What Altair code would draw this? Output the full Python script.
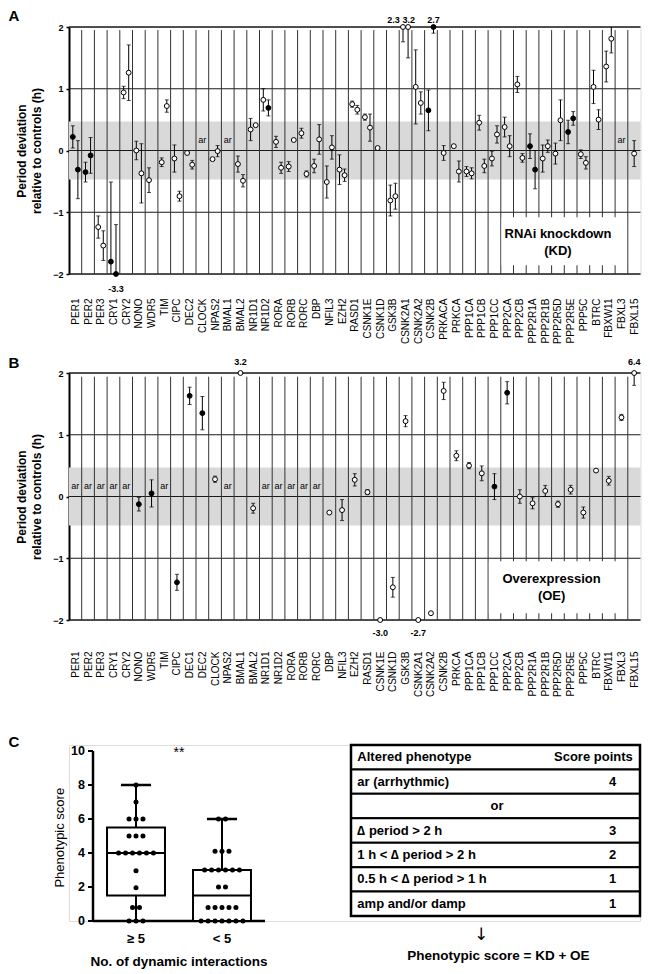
import json
import altair as alt
import pandas as pd

FONT = "Liberation Sans"

# ---------------- data ----------------
GENES_KD = ["PER1", "PER2", "PER3", "CRY1", "CRY2", "NONO", "WDR5", "TIM", "CIPC", "DEC2",
            "CLOCK", "NPAS2", "BMAL1", "BMAL2", "NR1D1", "NR1D2", "RORA", "RORB", "RORC", "DBP",
            "NFIL3", "EZH2", "RASD1", "CSNK1E", "CSNK1D", "GSK3B", "CSNK2A1", "CSNK2A2", "CSNK2B",
            "PRKACA", "PRKCA", "PPP1CA", "PPP1CB", "PPP1CC", "PPP2CA", "PPP2CB", "PPP2R1A",
            "PPP2R1B", "PPP2R5D", "PPP2R5E", "PPP5C", "BTRC", "FBXW11", "FBXL3", "FBXL15"]
GENES_OE = ["PER1", "PER2", "PER3", "CRY1", "CRY2", "NONO", "WDR5", "TIM", "CIPC", "DEC1",
            "DEC2", "CLOCK", "NPAS2", "BMAL1", "BMAL2", "NR1D1", "NR1D2", "RORA", "RORB", "RORC",
            "DBP", "NFIL3", "EZH2", "RASD1", "CSNK1E", "CSNK1D", "GSK3B", "CSNK2A1", "CSNK2A2",
            "CSNK2B", "PRKCA", "PPP1CA", "PPP1CB", "PPP1CC", "PPP2CA", "PPP2CB", "PPP2R1A",
            "PPP2R1B", "PPP2R5D", "PPP2R5E", "PPP5C", "BTRC", "FBXW11", "FBXL3", "FBXL15"]

# RNAi knockdown: gene, siRNA (1/2, 0 = single), period deviation, error, filled marker
KD_GENE = ["PER1", "PER1", "PER2", "PER2", "PER3", "PER3", "CRY1", "CRY1", "CRY2", "CRY2",
           "NONO", "NONO", "WDR5", "TIM", "TIM", "CIPC", "CIPC", "DEC2", "DEC2", "NPAS2", "NPAS2",
           "BMAL2", "BMAL2", "NR1D1", "NR1D1", "NR1D2", "NR1D2", "RORA", "RORA", "RORB", "RORB",
           "RORC", "RORC", "DBP", "DBP", "NFIL3", "NFIL3", "EZH2", "EZH2", "RASD1", "RASD1",
           "CSNK1E", "CSNK1E", "CSNK1D", "GSK3B", "GSK3B", "CSNK2A1", "CSNK2A1", "CSNK2A2",
           "CSNK2A2", "CSNK2B", "CSNK2B", "PRKACA", "PRKCA", "PRKCA", "PPP1CA", "PPP1CA",
           "PPP1CB", "PPP1CB", "PPP1CC", "PPP1CC", "PPP2CA", "PPP2CA", "PPP2CB", "PPP2CB",
           "PPP2R1A", "PPP2R1A", "PPP2R1B", "PPP2R1B", "PPP2R5D", "PPP2R5D", "PPP2R5E", "PPP2R5E",
           "PPP5C", "PPP5C", "BTRC", "BTRC", "FBXW11", "FBXW11", "FBXL15"]
KD_SIRNA = [1, 2, 1, 2, 1, 2, 1, 2, 1, 2,
            1, 2, 1, 1, 2, 1, 2, 1, 2, 1, 2,
            1, 2, 1, 2, 1, 2, 1, 2, 1, 2,
            1, 2, 1, 2, 1, 2, 1, 2, 1, 2,
            1, 2, 1, 1, 2, 1, 2, 1,
            2, 1, 2, 0, 1, 2, 1, 2,
            1, 2, 1, 2, 1, 2, 1, 2,
            1, 2, 1, 2, 1, 2, 1, 2,
            1, 2, 1, 2, 1, 2, 0]
KD_VAL = [0.22, -0.31, -0.35, -0.08, -1.24, -1.54, -1.80, -3.3, 0.94, 1.26,
          0.00, -0.37, -0.48, -0.19, 0.72, -0.13, -0.74, -0.04, -0.23, -0.14, -0.01,
          -0.22, -0.49, 0.34, 0.41, 0.82, 0.69, 0.14, -0.28, -0.26, 0.17,
          0.28, -0.38, -0.25, 0.18, -0.51, 0.05, -0.31, -0.40, 0.75, 0.66,
          0.54, 0.37, 0.04, -0.81, -0.74, 2.3, 3.2, 1.03,
          0.77, 0.65, 2.7, -0.04, 0.07, -0.34, -0.34, -0.37,
          0.45, -0.25, -0.13, 0.26, 0.38, 0.07, 1.07, -0.12,
          0.07, -0.31, -0.13, 0.07, -0.05, 0.49, 0.30, 0.52,
          -0.06, -0.20, 1.03, 0.50, 1.36, 1.81, -0.05]
KD_ERR = [0.18, 0.47, 0.16, 0.29, 0.18, 0.24, 1.29, 2.1, 0.10, 0.45,
          0.15, 0.48, 0.20, 0.07, 0.10, 0.22, 0.08, 0.0, 0.07, 0.0, 0.09,
          0.13, 0.10, 0.18, 0.0, 0.18, 0.13, 0.09, 0.09, 0.08, 0.0,
          0.08, 0.05, 0.11, 0.24, 0.26, 0.19, 0.24, 0.10, 0.05, 0.07,
          0.05, 0.22, 0.0, 0.25, 0.21, 0.54, 1.7, 0.60,
          0.18, 0.33, 0.8, 0.12, 0.0, 0.17, 0.08, 0.09,
          0.12, 0.11, 0.12, 0.14, 0.16, 0.17, 0.13, 0.07,
          0.20, 0.31, 0.22, 0.10, 0.17, 0.33, 0.19, 0.11,
          0.07, 0.10, 0.27, 0.16, 0.25, 0.23, 0.21]
KD_FILLED = [1, 1, 1, 1, 0, 0, 1, 1, 0, 0,
             0, 0, 0, 0, 0, 0, 0, 0, 0, 0, 0,
             0, 0, 0, 0, 0, 1, 0, 0, 0, 0,
             0, 0, 0, 0, 0, 0, 0, 0, 0, 0,
             0, 0, 0, 0, 0, 0, 0, 0,
             0, 1, 1, 0, 0, 0, 0, 0,
             0, 0, 0, 0, 0, 0, 0, 0,
             1, 1, 0, 0, 0, 0, 1, 1,
             0, 0, 0, 0, 0, 0, 0]
KD_AR = ["CLOCK", "BMAL1", "FBXL3"]

# Overexpression
OE_GENE = ["NONO", "WDR5", "CIPC", "DEC1", "DEC2", "CLOCK", "BMAL1", "BMAL2", "DBP", "NFIL3",
           "EZH2", "RASD1", "CSNK1E", "CSNK1D", "GSK3B", "CSNK2A1", "CSNK2A2", "CSNK2B", "PRKCA",
           "PPP1CA", "PPP1CB", "PPP1CC", "PPP2CA", "PPP2CB", "PPP2R1A", "PPP2R1B", "PPP2R5D",
           "PPP2R5E", "PPP5C", "BTRC", "FBXW11", "FBXL3", "FBXL15"]
OE_VAL = [-0.125, 0.05, -1.39, 1.63, 1.35, 0.28, 3.2, -0.19, -0.26, -0.22,
          0.27, 0.07, -3.0, -1.47, 1.22, -2.7, -1.89, 1.71, 0.66,
          0.50, 0.375, 0.16, 1.68, 0.0, -0.11, 0.09, -0.125,
          0.11, -0.26, 0.42, 0.255, 1.28, 6.4]
OE_ERR = [0.11, 0.22, 0.13, 0.14, 0.27, 0.05, 0.0, 0.08, 0.0, 0.17,
          0.10, 0.04, 0.0, 0.16, 0.09, 0.0, 0.0, 0.14, 0.08,
          0.05, 0.12, 0.21, 0.18, 0.11, 0.09, 0.09, 0.05,
          0.07, 0.09, 0.0, 0.07, 0.05, 4.6]
OE_FILLED = [1, 1, 1, 1, 1, 0, 0, 0, 0, 0,
             0, 0, 0, 0, 0, 0, 0, 0, 0,
             0, 0, 1, 1, 0, 0, 0, 0,
             0, 0, 0, 0, 0, 0]
OE_AR = ["PER1", "PER2", "PER3", "CRY1", "CRY2", "TIM", "NPAS2", "NR1D1", "NR1D2",
         "RORA", "RORB", "RORC"]

# Panel C: phenotypic scores
GROUPS = ["\u2265 5", "< 5"]
SCORES_G1 = [8, 7, 6, 6, 6, 5, 5, 5, 4, 4, 4, 4, 4, 4, 2.95, 1.95, 0.8, 0.8, 0, 0, 0]
SCORES_G2 = [6, 6, 4.1, 4.1, 4.1, 3, 3, 3, 3, 3, 3, 2, 2, 0.8, 0.8, 0.8, 0.8, 0.8,
             0, 0, 0, 0, 0, 0, 0]
BOX_MIN = [0, 0]
BOX_Q1 = [1.5, 0]
BOX_MED = [4, 1.5]
BOX_Q3 = [5.5, 3]
BOX_MAX = [8, 6]
SCORE_TICKS = [0, 2, 4, 6, 8, 10]

TABLE_PHENO = ["Altered phenotype", "ar (arrhythmic)", "or", "\u2206 period > 2 h",
               "1 h < \u2206 period > 2 h", "0.5 h < \u2206 period > 1 h", "amp and/or damp"]
TABLE_SCORE = ["Score points", "4", "", "3", "2", "1", "1"]

# ---------------- layout constants ----------------
COLW = 12.7
PH = 247
LETTER_X = -55


def one_row():
    return alt.Data(values=[{"a": 1}])


def make_panel(genes, p_gene, p_sirna, p_val, p_err, p_filled, ar_genes, box_span, box_y,
               box_text, letter, label_pad, dy_top, dy_bot, vtop):
    n = len(genes)
    pos = {g: i for i, g in enumerate(genes)}
    offs = {0: 0.0, 1: -0.2, 2: 0.2}
    pts, caps, notes = [], [], []
    note_count = {}
    for g, v in zip(p_gene, p_val):
        if abs(v) > 2:
            note_count[g] = note_count.get(g, 0) + 1
    for g, s, v, e, f in zip(p_gene, p_sirna, p_val, p_err, p_filled):
        x = pos[g] + 0.5 + offs[s]
        vd = min(max(v, -2), 2)
        lo, hi = max(v - e, -2), min(v + e, 2)
        pts.append(dict(x=x, vd=vd, lo=lo, hi=hi, e=e, filled=bool(f)))
        if e > 0:
            if v - e > -2:
                caps.append(dict(x=x, y=v - e))
            if v + e < 2:
                caps.append(dict(x=x, y=v + e))
        if abs(v) > 2:
            shift = 0.0
            if note_count[g] == 2:
                shift = -0.75 if s == 1 else 0.05
            notes.append(dict(x=x + shift, y=vd, t=f"{v:.1f}", top=v > 0))
    df = pd.DataFrame(pts)
    dcaps = pd.DataFrame(caps)
    dnotes = pd.DataFrame(notes)
    dar = pd.DataFrame([dict(x=pos[g] + 0.5, y=0.17, t="ar") for g in ar_genes])
    dh = pd.DataFrame([dict(x0=0, x1=n, y=v, w=(1.6 if abs(v) == 2 else 1.0))
                       for v in [2, 1, 0, -1, -2]])
    dv = pd.DataFrame([dict(b=b, y0=vtop, y1=-2) for b in range(1, n)])
    dband = pd.DataFrame([dict(x0=0, x1=n, y0=-0.47, y1=0.47)])
    dbox = pd.DataFrame([dict(x0=box_span[0] + 0.06, x1=box_span[1] - 0.06,
                              y0=box_y[0], y1=box_y[1])])
    dboxt = pd.DataFrame([dict(x=box_text[0], y=box_text[1][i], t=box_text[2][i])
                          for i in range(2)])

    xs = alt.Scale(domain=[0, n], nice=False, zero=False)
    ys = alt.Scale(domain=[-2, 2], nice=False, zero=False)
    label_expr = json.dumps(genes) + "[floor(datum.value)]"
    xax = alt.Axis(values=[i + 0.5 for i in range(n)], labelExpr=label_expr, labelAngle=270,
                   labelFont=FONT, labelFontSize=10, labelColor="black", ticks=False,
                   domain=False, grid=False, labelPadding=label_pad, labelOverlap=False,
                   labelBound=False, labelFlush=False, title=None)
    yax = alt.Axis(values=[-2, -1, 0, 1, 2], format="d", labelFont=FONT, labelFontSize=9,
                   labelFontWeight="bold", labelColor="black", grid=False, domain=True,
                   domainColor="black", domainWidth=2, tickColor="black", tickSize=3,
                   tickWidth=1.5, labelPadding=3,
                   title=["Period deviation", "relative to controls (h)"], titleFont=FONT,
                   titleFontSize=12, titleFontWeight="bold", titleColor="black",
                   titlePadding=9, titleLineHeight=15)

    def X(f):
        return alt.X(f, scale=xs, axis=xax)

    def Y(f):
        return alt.Y(f, scale=ys, axis=yax)

    band = alt.Chart(dband).mark_rect(color="#d9d9d9").encode(
        x=X("x0:Q"), x2="x1:Q", y=Y("y0:Q"), y2="y1:Q")
    hl = alt.Chart(dh).mark_rule(color="#1a1a1a").encode(
        x=X("x0:Q"), x2="x1:Q", y=Y("y:Q"), strokeWidth=alt.StrokeWidth("w:Q", scale=None))
    vl = alt.Chart(dv).mark_rule(color="#333333", strokeWidth=1).encode(
        x=X("b:Q"), y=Y("y0:Q"), y2="y1:Q")
    wbox = alt.Chart(dbox).mark_rect(color="white").encode(
        x=X("x0:Q"), x2="x1:Q", y=Y("y0:Q"), y2="y1:Q")
    boxt = alt.Chart(dboxt).mark_text(font=FONT, fontSize=13, fontWeight="bold",
                                      color="black").encode(
        x=X("x:Q"), y=Y("y:Q"), text="t:N")
    art = alt.Chart(dar).mark_text(font=FONT, fontSize=9, color="black").encode(
        x=X("x:Q"), y=Y("y:Q"), text="t:N")
    err = alt.Chart(df[df.e > 0]).mark_rule(color="black", strokeWidth=1).encode(
        x=X("x:Q"), y=Y("lo:Q"), y2="hi:Q")
    cap = alt.Chart(dcaps).mark_tick(color="black", orient="horizontal", size=4,
                                     thickness=1).encode(x=X("x:Q"), y=Y("y:Q"))
    pt = alt.Chart(df).mark_point(shape="circle", size=24, filled=True, stroke="black",
                                  strokeWidth=1, opacity=1).encode(
        x=X("x:Q"), y=Y("vd:Q"),
        fill=alt.condition("datum.filled", alt.value("black"), alt.value("white")))
    ntop = alt.Chart(dnotes[dnotes.top]).mark_text(font=FONT, fontSize=9, fontWeight="bold",
                                                   color="black", dy=dy_top).encode(
        x=X("x:Q"), y=Y("y:Q"), text="t:N")
    nbot = alt.Chart(dnotes[~dnotes.top]).mark_text(font=FONT, fontSize=9, fontWeight="bold",
                                                    color="black", dy=dy_bot).encode(
        x=X("x:Q"), y=Y("y:Q"), text="t:N")
    let = alt.Chart(one_row()).mark_text(font=FONT, fontSize=15, fontWeight="bold",
                                         color="black", align="center",
                                         baseline="middle").encode(
        x=alt.value(LETTER_X), y=alt.value(letter[1]), text=alt.value(letter[0]))
    return alt.layer(band, hl, vl, wbox, boxt, art, err, cap, pt, ntop, nbot, let).properties(
        width=n * COLW, height=PH)


panelA = make_panel(GENES_KD, KD_GENE, KD_SIRNA, KD_VAL, KD_ERR, KD_FILLED, KD_AR,
                    (34, 44), (-1.08, -1.86),
                    (38.5, [-1.36, -1.63], ["RNAi knockdown", "(KD)"]),
                    ("A", -11), 24, -7, 15, 1.95)
panelB = make_panel(GENES_OE, OE_GENE, [0] * len(OE_GENE), OE_VAL, OE_ERR, OE_FILLED, OE_AR,
                    (33, 44), (-1.05, -1.89),
                    (38.0, [-1.34, -1.61], ["Overexpression", "(OE)"]),
                    ("B", -10), 31, -11, 13, 1.94)

# ---------------- row 3: box plot + table in one view ----------------
R3_W, R3_H = 571, 176
BOX_X0_PX, BOX_PX_PER = 24, 86          # box-plot x=0 sits 24 px right of panel edge
BOX_Y_PX_PER = 17
TAB_X0_PX, TAB_W = 282, 289
ROW_PX = 24.43
BOX_HALF, CAP_HALF, DOT_STEP = 0.337, 0.175, 0.081

bxs = alt.Scale(domain=[-BOX_X0_PX / BOX_PX_PER, (R3_W - BOX_X0_PX) / BOX_PX_PER],
                nice=False, zero=False)
bys = alt.Scale(domain=[0, R3_H / BOX_Y_PX_PER], nice=False, zero=False)


def BX(f):
    return alt.X(f, scale=bxs, axis=None)


def BY(f):
    return alt.Y(f, scale=bys, axis=None)


dots = []
for gi, scores in enumerate([SCORES_G1, SCORES_G2]):
    counts = {}
    for s in scores:
        counts[s] = counts.get(s, 0) + 1
    seen = {}
    for s in scores:
        k = seen.get(s, 0)
        seen[s] = k + 1
        dots.append(dict(x=gi + 0.5 + (k - (counts[s] - 1) / 2) * DOT_STEP, y=s))
ddots = pd.DataFrame(dots)
dstat = pd.DataFrame([dict(c=gi + 0.5, l=gi + 0.5 - BOX_HALF, r=gi + 0.5 + BOX_HALF,
                           cl=gi + 0.5 - CAP_HALF, cr=gi + 0.5 + CAP_HALF, g=GROUPS[gi],
                           mn=BOX_MIN[gi], q1=BOX_Q1[gi], md=BOX_MED[gi], q3=BOX_Q3[gi],
                           mx=BOX_MAX[gi]) for gi in range(2)])
dticks = pd.DataFrame([dict(v=v, t=str(v), x0=-5 / BOX_PX_PER, x1=0) for v in SCORE_TICKS])
daxes = pd.DataFrame([dict(x0=0, x1=0, y0=0, y1=max(SCORE_TICKS)),
                      dict(x0=0, x1=len(GROUPS), y0=0, y1=0)])

ax_lines = alt.Chart(daxes).mark_rule(color="black", strokeWidth=2.5).encode(
    x=BX("x0:Q"), x2="x1:Q", y=BY("y0:Q"), y2="y1:Q")
ax_ticks = alt.Chart(dticks).mark_rule(color="black", strokeWidth=2).encode(
    x=BX("x0:Q"), x2="x1:Q", y=BY("v:Q"))
ax_labels = alt.Chart(dticks).mark_text(font=FONT, fontSize=12.5, fontWeight="bold",
                                        align="right", baseline="middle", dx=-8,
                                        color="black").encode(
    x=BX("z:Q"), y=BY("v:Q"), text="t:N").transform_calculate(z="0")
ax_ytitle = alt.Chart(one_row()).mark_text(font=FONT, fontSize=13, angle=270,
                                           color="black").encode(
    x=BX("tx:Q"), y=BY("ty:Q"), text=alt.value("Phenotypic score")).transform_calculate(
    tx="-0.385", ty="4.9")
ax_xlabels = alt.Chart(dstat).mark_text(font=FONT, fontSize=13, fontWeight="bold", dy=18,
                                        color="black").encode(
    x=BX("c:Q"), y=BY("z:Q"), text="g:N").transform_calculate(z="0")
ax_xtitle = alt.Chart(one_row()).mark_text(font=FONT, fontSize=13.5, fontWeight="bold",
                                           dy=41, color="black").encode(
    x=BX("tx:Q"), y=BY("ty:Q"), text=alt.value("No. of dynamic interactions")
).transform_calculate(tx="1.0", ty="0")

wlo = alt.Chart(dstat).mark_rule(color="black", strokeWidth=2).encode(
    x=BX("c:Q"), y=BY("mn:Q"), y2="q1:Q")
whi = alt.Chart(dstat).mark_rule(color="black", strokeWidth=2).encode(
    x=BX("c:Q"), y=BY("q3:Q"), y2="mx:Q")
capc = alt.Chart(dstat).mark_rule(color="black", strokeWidth=2.5).encode(
    x=BX("cl:Q"), x2="cr:Q", y=BY("mx:Q"))
boxr = alt.Chart(dstat).mark_rect(fill="white", stroke="black", strokeWidth=2).encode(
    x=BX("l:Q"), x2="r:Q", y=BY("q1:Q"), y2="q3:Q")
medr = alt.Chart(dstat).mark_rule(color="black", strokeWidth=2).encode(
    x=BX("l:Q"), x2="r:Q", y=BY("md:Q"))
dotm = alt.Chart(ddots).mark_circle(color="black", size=25, opacity=1).encode(
    x=BX("x:Q"), y=BY("y:Q"))
star = alt.Chart(one_row()).mark_text(font=FONT, fontSize=14, color="black").encode(
    x=BX("sx:Q"), y=BY("sy:Q"), text=alt.value("**")).transform_calculate(sx="1.0", sy="9.9")

box_layer = alt.layer(ax_lines, ax_ticks, ax_labels, ax_ytitle, ax_xlabels, ax_xtitle,
                      wlo, whi, capc, boxr, medr, dotm, star)

# table
trows = []
for i, (p, s) in enumerate(zip(TABLE_PHENO, TABLE_SCORE)):
    trows.append(dict(i=i, y0=i, y1=i + 1, ym=i + 0.5, p=p, s=s))
dt = pd.DataFrame(trows)
txs = alt.Scale(domain=[-TAB_X0_PX / TAB_W, (R3_W - TAB_X0_PX) / TAB_W], nice=False,
                zero=False)
tys = alt.Scale(domain=[0, R3_H / ROW_PX], nice=False, zero=False, reverse=True)


def TX(f):
    return alt.X(f, scale=txs, axis=None)


def TY(f):
    return alt.Y(f, scale=tys, axis=None)


trect = alt.Chart(dt).mark_rect(fill="white", stroke="black", strokeWidth=2).encode(
    x=TX("x0:Q"), x2="x1:Q", y=TY("y0:Q"), y2="y1:Q").transform_calculate(x0="0", x1="1")
touter = alt.Chart(one_row()).mark_rect(fill=None, stroke="black", strokeWidth=2.5).encode(
    x=TX("x0:Q"), x2="x1:Q", y=TY("y0:Q"), y2="y1:Q").transform_calculate(
    x0="0", x1="1", y0="0", y1=str(len(TABLE_PHENO)))
tleft = alt.Chart(dt[dt.p != "or"]).mark_text(font=FONT, fontSize=13, fontWeight="bold",
                                              align="left", color="black").encode(
    x=TX("tx:Q"), y=TY("ym:Q"), text="p:N").transform_calculate(tx="0.022")
tor = alt.Chart(dt[dt.p == "or"]).mark_text(font=FONT, fontSize=13, fontWeight="bold",
                                            align="center", color="black").encode(
    x=TX("tx:Q"), y=TY("ym:Q"), text="p:N").transform_calculate(tx="0.505")
tscore = alt.Chart(dt[(dt.i > 0) & (dt.s != "")]).mark_text(
    font=FONT, fontSize=13, fontWeight="bold", align="center", color="black").encode(
    x=TX("tx:Q"), y=TY("ym:Q"), text="s:N").transform_calculate(tx="0.905")
thead = alt.Chart(dt[dt.i == 0]).mark_text(font=FONT, fontSize=13, fontWeight="bold",
                                           align="right", color="black").encode(
    x=TX("tx:Q"), y=TY("ym:Q"), text="s:N").transform_calculate(tx="0.975")
tarrow = alt.Chart(one_row()).mark_text(font="DejaVu Sans", fontSize=17, color="black").encode(
    x=TX("tx:Q"), y=TY("ty:Q"), text=alt.value("\u2193")).transform_calculate(
    tx="0.45", ty="7.78")
tform = alt.Chart(one_row()).mark_text(font=FONT, fontSize=13.5, fontWeight="bold",
                                       color="black").encode(
    x=TX("tx:Q"), y=TY("ty:Q"), text=alt.value("Phenotypic score = KD + OE")).transform_calculate(
    tx="0.51", ty="8.64")
table_layer = alt.layer(trect, touter, tleft, tor, tscore, thead, tarrow, tform)

letC = alt.Chart(one_row()).mark_text(font=FONT, fontSize=15, fontWeight="bold",
                                      color="black", align="center",
                                      baseline="middle").encode(
    x=alt.value(LETTER_X), y=alt.value(-3), text=alt.value("C"))
gap = alt.Chart(one_row()).mark_rule(color="white", strokeWidth=1).encode(
    x=alt.value(0), x2=alt.value(1), y=alt.value(-35.5))

row3 = alt.layer(box_layer, table_layer, letC, gap).resolve_scale(
    x="independent", y="independent").properties(width=R3_W, height=R3_H)

chart = alt.vconcat(panelA, panelB, row3, spacing=10).properties(
    padding={"left": 0, "top": 0, "right": 0, "bottom": 0}
).configure_view(stroke=None).configure(font=FONT)

chart.save("out.html", embed_options={"renderer": "svg", "actions": False})
